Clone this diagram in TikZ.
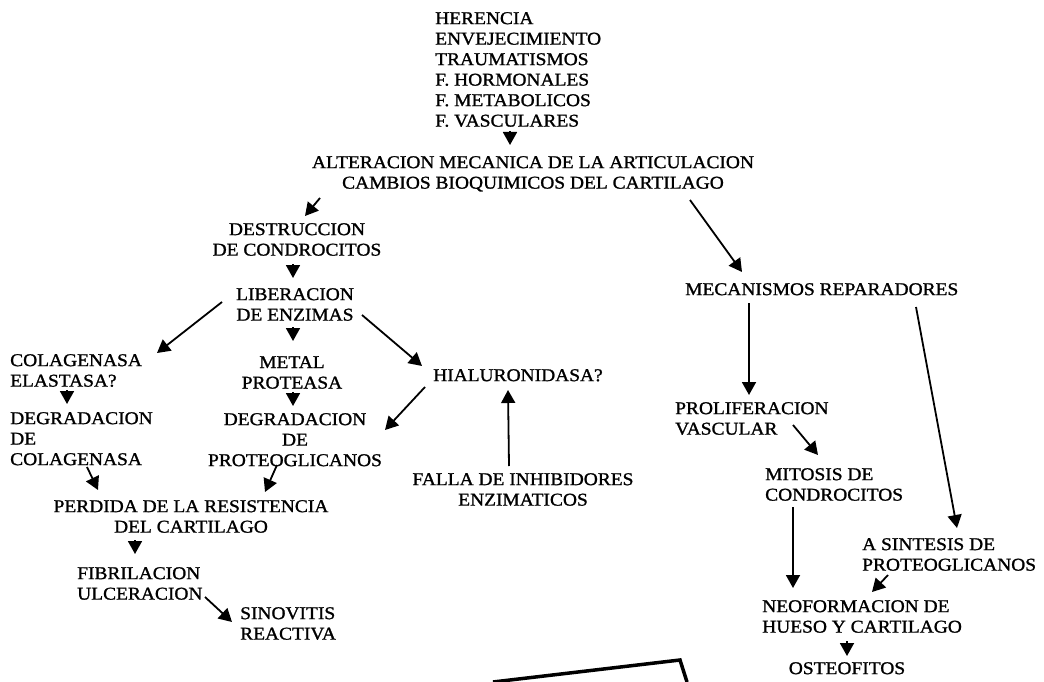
\documentclass[tikz,border=0pt]{standalone}
\usepackage{fontspec}
\setmainfont{Liberation Serif}[FakeStretch=1.08,FakeBold=1.2]
\usetikzlibrary{arrows.meta}
\begin{document}
\begin{tikzpicture}[x=1pt,y=-1pt,font=\fontsize{18pt}{20.5pt}\selectfont,
  txt/.style={inner sep=0pt,align=center},
  arr/.style={line width=1.8pt,-{Triangle[length=13pt,width=14pt]}}]
\useasboundingbox (0,0) rectangle (1044,682);
\node[txt,anchor=north west,align=left](causes)at(435,12){HERENCIA\\ENVEJECIMIENTO\\TRAUMATISMOS\\F. HORMONALES\\F. METABOLICOS\\F. VASCULARES};
\node[txt,anchor=north](alter)at(533,156){ALTERACION MECANICA DE LA ARTICULACION\\CAMBIOS BIOQUIMICOS DEL CARTILAGO};
\node[txt,anchor=north](destr)at(297,223){DESTRUCCION\\DE CONDROCITOS};
\node[txt,anchor=north](liber)at(295,288){LIBERACION\\DE ENZIMAS};
\node[txt,anchor=north west,align=left](colag)at(10,354){COLAGENASA\\ELASTASA?};
\node[txt,anchor=north](metal)at(292,356){METAL\\PROTEASA};
\node[txt,anchor=north west](hialu)at(433,369){HIALURONIDASA?};
\node[txt,anchor=north west,align=left](degc)at(10,412){DEGRADACION\\DE\\COLAGENASA};
\node[txt,anchor=north](degp)at(295,413){DEGRADACION\\DE\\PROTEOGLICANOS};
\node[txt,anchor=north](falla)at(523,473){FALLA DE INHIBIDORES\\ENZIMATICOS};
\node[txt,anchor=north](perd)at(191,500){PERDIDA DE LA RESISTENCIA\\DEL CARTILAGO};
\node[txt,anchor=north west,align=left](fibr)at(77,567){FIBRILACION\\ULCERACION};
\node[txt,anchor=north west,align=left](sino)at(240,607){SINOVITIS\\REACTIVA};
\node[txt,anchor=north west](meca)at(685,283){MECANISMOS REPARADORES};
\node[txt,anchor=north west,align=left](prol)at(675,402){PROLIFERACION\\VASCULAR};
\node[txt,anchor=north west,align=left](mito)at(765,468){MITOSIS DE\\CONDROCITOS};
\node[txt,anchor=north west,align=left](sint)at(862,538){A SINTESIS DE\\PROTEOGLICANOS};
\node[txt,anchor=north west,align=left](neo)at(762,600){NEOFORMACION DE\\HUESO Y CARTILAGO};
\node[txt,anchor=north](osteo)at(847,662){OSTEOFITOS};
\draw[arr]([shift={(75,119)}]causes.north west)--([shift={(-23,-11)}]alter.north);
\draw[arr]([shift={(-213,42)}]alter.north)--([shift={(8,-7)}]destr.north);
\draw[arr]([shift={(-4,41)}]destr.north)--([shift={(-2,-10)}]liber.north);
\draw[arr]([shift={(-73,14)}]liber.north)--([shift={(147,-1)}]colag.north west);
\draw[arr]([shift={(67,27)}]liber.north)--([shift={(-11,-3)}]hialu.north west);
\draw[arr]([shift={(-2,39)}]liber.north)--([shift={(1,-15)}]metal.north);
\draw[arr]([shift={(57,36)}]colag.north west)--([shift={(57,-8)}]degc.north west);
\draw[arr]([shift={(1,36)}]metal.north)--([shift={(-2,-7)}]degp.north);
\draw[arr]([shift={(-8,18)}]hialu.north west)--([shift={(90,17)}]degp.north);
\draw[arr]([shift={(-14,-7)}]falla.north)--([shift={(75,21)}]hialu.north west);
\draw[arr]([shift={(77,55)}]degc.north west)--([shift={(-93,-10)}]perd.north);
\draw[arr]([shift={(-18,52)}]degp.north)--([shift={(74,-8)}]perd.north);
\draw[arr]([shift={(-56,40)}]perd.north)--([shift={(58,-13)}]fibr.north west);
\draw[arr]([shift={(128,30)}]fibr.north west)--([shift={(-8,15)}]sino.north west);
\draw[arr]([shift={(157,44)}]alter.north)--([shift={(57,-11)}]meca.north west);
\draw[arr]([shift={(64,20)}]meca.north west)--([shift={(74,-7)}]prol.north west);
\draw[arr]([shift={(231,24)}]meca.north west)--([shift={(95,-10)}]sint.north west);
\draw[arr]([shift={(118,23)}]prol.north west)--([shift={(53,-13)}]mito.north west);
\draw[arr]([shift={(28,39)}]mito.north west)--([shift={(31,-12)}]neo.north west);
\draw[arr]([shift={(26,37)}]sint.north west)--([shift={(110,-8)}]neo.north west);
\draw[arr]([shift={(85,41)}]neo.north west)--([shift={(0,-6)}]osteo.north);
\draw[line width=3.5pt](493,682)--(680,660)--(687,682);
\end{tikzpicture}
\end{document}
